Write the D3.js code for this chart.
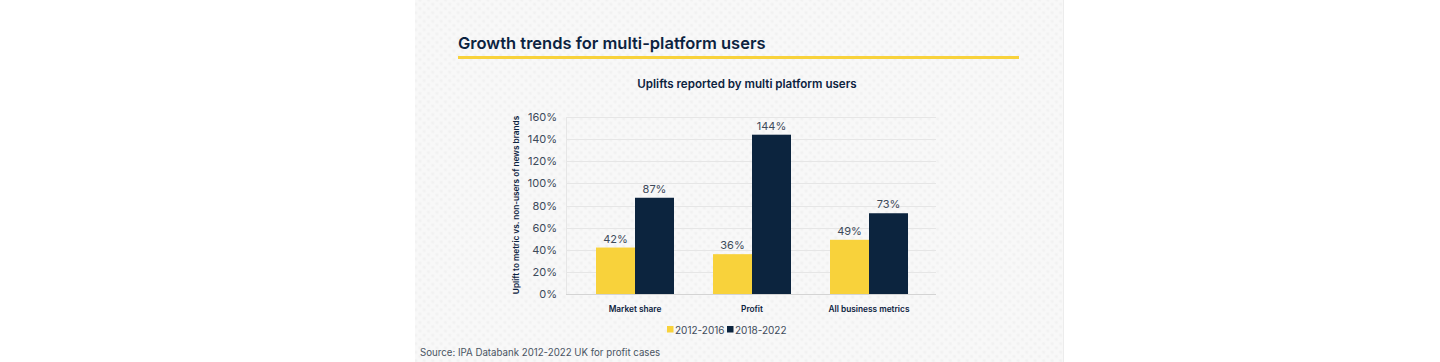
<!DOCTYPE html>
<html>
<head>
<meta charset="utf-8">
<script src="https://cdn.jsdelivr.net/npm/d3@7"></script>
<style>
  html, body { margin: 0; padding: 0; background: #fff; }
  svg { display: block; font-family: Inter, "Open Sans", sans-serif; }
</style>
</head>
<body>
<div id="chart"></div>
<script>

// Chart data
const categories = ["Market share", "Profit", "All business metrics"];
const periods = ["2012-2016", "2018-2022"];
const early = [42, 36, 49];
const late = [87, 144, 73];
const yTicks = [0, 20, 40, 60, 80, 100, 120, 140, 160];

const colours = ["#f8d23b", "#0c243e"];
const navy = "#0c2340";

const width = 1440;
const height = 362;

const svg = d3.select("#chart").append("svg")
    .attr("width", width)
    .attr("height", height);

// Dotted grey panel behind the chart
const defs = svg.append("defs");
const pat = defs.append("pattern")
    .attr("id", "dots")
    .attr("width", 6)
    .attr("height", 6)
    .attr("patternUnits", "userSpaceOnUse")
    .attr("patternTransform", "rotate(45)");
pat.append("rect").attr("width", 6).attr("height", 6).attr("fill", "#f8f8f8");
pat.append("circle").attr("cx", 3).attr("cy", 3).attr("r", 1.6).attr("fill", "#f1f1f1");

svg.append("rect")
    .attr("x", 415).attr("y", 0)
    .attr("width", 649).attr("height", height)
    .attr("fill", "url(#dots)");
svg.append("line")
    .attr("x1", 1063.5).attr("x2", 1063.5)
    .attr("y1", 0).attr("y2", height)
    .attr("stroke", "#ececec");

// Heading and yellow rule
svg.append("text")
    .attr("x", 458).attr("y", 49)
    .attr("fill", navy)
    .style("font-size", "16.5px")
    .style("font-weight", 600)
    .text("Growth trends for multi-platform users");

svg.append("rect")
    .attr("x", 458).attr("y", 56)
    .attr("width", 561).attr("height", 3)
    .attr("fill", colours[0]);

svg.append("text")
    .attr("x", 747).attr("y", 88)
    .attr("text-anchor", "middle")
    .attr("fill", navy)
    .style("font-size", "11.6px")
    .style("font-weight", 600)
    .text("Uplifts reported by multi platform users");

// Scales
const y = d3.scaleLinear().domain([0, 160]).range([294, 117]);

const x0 = d3.scaleBand()
    .domain(categories)
    .range([576.5, 927.5])
    .paddingInner(1 / 3)
    .paddingOuter(1 / 6);

const x1 = d3.scaleBand()
    .domain(periods)
    .range([0, x0.bandwidth()]);

// Gridlines
svg.append("g")
    .selectAll("line")
    .data(yTicks)
    .enter().append("line")
    .attr("x1", 566).attr("x2", 936)
    .attr("y1", (d) => Math.round(y(d)) + 0.5)
    .attr("y2", (d) => Math.round(y(d)) + 0.5)
    .attr("stroke", (d) => d === 0 ? "#d4d4d4" : "#e6e6e6");

svg.append("line")
    .attr("x1", 566.5).attr("x2", 566.5)
    .attr("y1", y(160)).attr("y2", y(0))
    .attr("stroke", "#e6e6e6");

// Y axis labels
const yAxis = d3.axisLeft(y)
    .tickValues(yTicks)
    .tickSize(0)
    .tickPadding(0)
    .tickFormat((d) => d + "%");

svg.append("g")
    .attr("transform", "translate(557,0)")
    .call(yAxis)
    .call((g) => g.select(".domain").remove())
    .selectAll("text")
    .attr("fill", "#3d4a5a")
    .style("font-size", "11px")
    .style("font-family", "Inter, sans-serif");

svg.append("text")
    .attr("transform", "translate(519,205) rotate(-90)")
    .attr("text-anchor", "middle")
    .attr("fill", navy)
    .style("font-size", "8.2px")
    .style("font-weight", 600)
    .text("Uplift to metric vs. non-users of news brands");

// Bars
const rows = categories.map((c, i) => ({ category: c, values: [early[i], late[i]] }));

const groups = svg.append("g")
    .selectAll("g")
    .data(rows)
    .enter().append("g")
    .attr("transform", (d) => "translate(" + x0(d.category) + ",0)");

const bars = groups.selectAll("g")
    .data((d) => d.values.map((v, j) => ({ period: periods[j], value: v, index: j })))
    .enter().append("g");

bars.append("rect")
    .attr("x", (d) => x1(d.period))
    .attr("y", (d) => y(d.value))
    .attr("width", x1.bandwidth())
    .attr("height", (d) => y(0) - y(d.value))
    .attr("fill", (d) => colours[d.index]);

bars.append("text")
    .attr("x", (d) => x1(d.period) + x1.bandwidth() / 2)
    .attr("y", (d) => y(d.value) - 5)
    .attr("text-anchor", "middle")
    .attr("fill", "#3d4a5a")
    .style("font-size", "11px")
    .text((d) => d.value + "%");

// Category labels
svg.append("g")
    .selectAll("text")
    .data(categories)
    .enter().append("text")
    .attr("x", (d) => x0(d) + x0.bandwidth() / 2)
    .attr("y", 312)
    .attr("text-anchor", "middle")
    .attr("fill", navy)
    .style("font-size", "8.3px")
    .style("font-weight", 600)
    .text((d) => d);

// Legend
const legendX = [667, 727];
const legend = svg.append("g")
    .selectAll("g")
    .data(periods)
    .enter().append("g")
    .attr("transform", (d, i) => "translate(" + legendX[i] + ",326)");

legend.append("rect")
    .attr("width", 6.5).attr("height", 6.5)
    .attr("fill", (d, i) => colours[i]);

legend.append("text")
    .attr("x", 8).attr("y", 7.5)
    .attr("fill", "#3d4a5a")
    .style("font-size", "10px")
    .text((d) => d);

// Source note
svg.append("text")
    .attr("x", 420).attr("y", 356)
    .attr("fill", "#4a5563")
    .style("font-size", "9.7px")
    .text("Source: IPA Databank 2012-2022 UK for profit cases");

</script>
</body>
</html>
